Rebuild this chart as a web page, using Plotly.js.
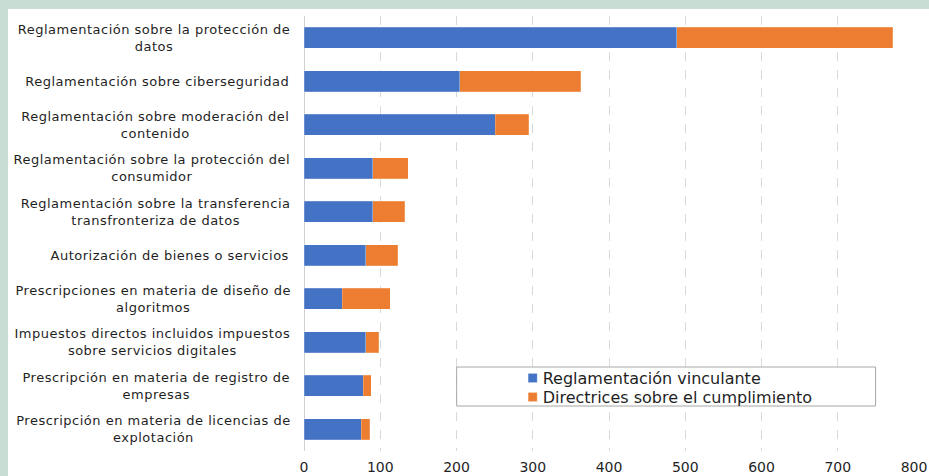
<!DOCTYPE html>
<html>
<head>
<meta charset="utf-8">
<script src="https://cdn.plot.ly/plotly-3.0.1.min.js"></script>
<style>
  html, body { margin: 0; padding: 0; background: #c8ded4; width: 929px; height: 476px; overflow: hidden; }
  #chart { position: absolute; left: 8px; top: 9px; width: 921px; height: 467px; background: #ffffff; }
  #chart .annotation-text { letter-spacing: 0.5px; }
  #chart .legendpoints path { d: path("M14.5,4.5H5.5V-4.5H14.5Z"); }
</style>
</head>
<body>
<div id="chart"></div>
<script>
// Categories (top to bottom)
const categories = [
  "Reglamentación sobre la protección de<br>datos",
  "Reglamentación sobre ciberseguridad",
  "Reglamentación sobre moderación del<br>contenido",
  "Reglamentación sobre la protección del<br>consumidor",
  "Reglamentación sobre la transferencia<br>transfronteriza de datos",
  "Autorización de bienes o servicios",
  "Prescripciones en materia de diseño de<br>algoritmos",
  "Impuestos directos incluidos impuestos<br>sobre servicios digitales",
  "Prescripción en materia de registro de<br>empresas",
  "Prescripción en materia de licencias de<br>explotación"
];
const seriesNames = ["Reglamentación vinculante", "Directrices sobre el cumplimiento"];
const vinculante = [489, 204, 251, 90, 90, 81, 50, 81, 78, 75];
const directrices = [283, 159, 44, 47, 42, 42, 63, 17, 10, 11];
const xTickVals = [0, 100, 200, 300, 400, 500, 600, 700, 800];

const FONT = "DejaVu Sans, Verdana, sans-serif";
const TXT = "#1f1f1f";

const traces = [
  { type: "bar", orientation: "h", name: seriesNames[0], y: categories, x: vinculante,
    marker: { color: "#4472c4", line: { color: "rgba(255,255,255,0.4)", width: 0.5 } },
    legend: "legend" },
  { type: "bar", orientation: "h", name: seriesNames[1], y: categories, x: directrices,
    marker: { color: "#ed7d31", line: { color: "rgba(255,255,255,0.4)", width: 0.5 } },
    legend: "legend2" }
];

const annotations = categories.map(c => ({
  xref: "paper", yref: "y", x: 0, y: c, xanchor: "right", yanchor: "middle",
  xshift: -21, text: c, showarrow: false, align: "center",
  font: { family: FONT, size: 13, color: TXT }
}));

const legendCommon = {
  xanchor: "left", yanchor: "middle", bgcolor: "rgba(0,0,0,0)", borderwidth: 0,
  font: { family: FONT, size: 16, color: TXT }, itemwidth: 30
};

const layout = {
  width: 921, height: 467,
  margin: { l: 296, r: 15, t: 7, b: 25, pad: 0 },
  paper_bgcolor: "#ffffff", plot_bgcolor: "#ffffff",
  barmode: "stack", bargap: 0.52,
  font: { family: FONT, color: TXT, size: 13 },
  xaxis: {
    range: [0, 800], tickvals: xTickVals, ticktext: xTickVals.map(String),
    showgrid: true, gridcolor: "#d9d9d9", gridwidth: 1, griddash: "dash",
    zeroline: true, zerolinecolor: "#d0d0d0", zerolinewidth: 1,
    showline: false, ticks: "outside", ticklen: 3, tickcolor: "rgba(0,0,0,0)",
    tickfont: { family: FONT, size: 14, color: TXT }, fixedrange: true
  },
  yaxis: {
    autorange: "reversed", showticklabels: false, showgrid: false, zeroline: false,
    showline: false, ticks: "", fixedrange: true
  },
  showlegend: true,
  legend: Object.assign({ x: 0.3257, y: 0.1678 }, legendCommon),
  legend2: Object.assign({ x: 0.3257, y: 0.1241 }, legendCommon),
  shapes: [{
    type: "rect", xref: "paper", yref: "paper",
    x0: 0.2503, x1: 0.937, y0: 0.1034, y1: 0.1931,
    line: { color: "#a6a6a6", width: 1 }, fillcolor: "#ffffff", layer: "above"
  }],
  annotations: annotations
};

Plotly.newPlot("chart", traces, layout, { displayModeBar: false, staticPlot: true });
</script>
</body>
</html>
